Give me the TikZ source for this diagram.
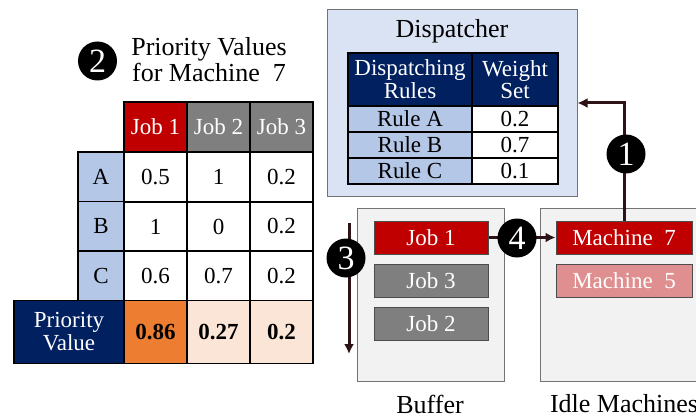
\documentclass[tikz,border=0pt]{standalone}
\usepackage{fontspec}
\setmainfont{Liberation Serif}
\usetikzlibrary{arrows.meta}
\definecolor{jobred}{HTML}{C00000}
\definecolor{jobgray}{HTML}{7F7F7F}
\definecolor{rulebl}{HTML}{B4C7E7}
\definecolor{navy}{HTML}{002060}
\definecolor{hiorange}{HTML}{ED7D31}
\definecolor{lopeach}{HTML}{FBE5D6}
\definecolor{dispbg}{HTML}{DAE3F3}
\definecolor{boxbg}{HTML}{F2F2F2}
\definecolor{mpink}{HTML}{DF8F8F}
\definecolor{flow}{HTML}{2E1316}
\tikzset{
  cell/.style={draw=black, line width=0.7pt, minimum width=31.5pt,
    minimum height=25pt, inner sep=0pt},
  rulecell/.style={draw=black, line width=0.7pt, inner sep=0pt,
    minimum height=13pt},
  area/.style={draw=black!55, line width=0.5pt, fill=boxbg, inner sep=0pt},
  item/.style={draw=black!70, line width=0.5pt, text=white, inner sep=0pt,
    minimum height=16.5pt},
  badge/.style={circle, fill=black, text=white, inner sep=0pt,
    minimum size=19.5pt, font=\fontsize{17}{17}\selectfont},
  flowline/.style={draw=flow, line width=1.5pt, -{Latex[length=5pt,width=5pt]}}
}
\begin{document}
\begin{tikzpicture}[x=0.5pt, y=-0.5pt, font=\fontsize{11.5}{11}\selectfont]
  \useasboundingbox (0,0) rectangle (696,417);
  % priority table
  \node[badge] (n2) at (97.5,61) {2};
  \node[align=center, font=\fontsize{13}{13}\selectfont] (title) at (209,60)
    {Priority Values\\for Machine~~7};
  \node[cell, fill=jobred, text=white] (h1) at (155.5,127) {Job 1};
  \node[cell, fill=jobgray, text=white] (h2) at (218.5,127) {Job 2};
  \node[cell, fill=jobgray, text=white] (h3) at (281.5,127) {Job 3};
  \foreach \r/\y/\a/\b/\c in {A/177/0.5/1/0.2, B/226.5/1/0/0.2, C/276/0.6/0.7/0.2} {
    \node[cell, fill=rulebl, minimum width=23pt] (r\r) at (101,\y) {\r};
    \node[cell] (r\r1) at (155.5,\y) {\a};
    \node[cell] (r\r2) at (218.5,\y) {\b};
    \node[cell] (r\r3) at (281.5,\y) {\c};
  }
  \node[cell, fill=navy, text=white, minimum width=55pt, minimum height=31.5pt,
    align=center, font=\fontsize{11.5}{10}\selectfont] (pv) at (69,332) {Priority\\Value};
  \node[cell, fill=hiorange, minimum height=31.5pt, font=\fontsize{11.5}{11}\bfseries] (pv1) at (155.5,332) {0.86};
  \node[cell, fill=lopeach, minimum height=31.5pt, font=\fontsize{11.5}{11}\bfseries] (pv2) at (218.5,332) {0.27};
  \node[cell, fill=lopeach, minimum height=31.5pt, font=\fontsize{11.5}{11}\bfseries] (pv3) at (281.5,332) {0.2};
  % dispatcher
  \node[area, fill=dispbg, minimum width=125pt, minimum height=93pt] (disp) at (452,103) {};
  \node[font=\fontsize{13}{13}\selectfont] (disptitle) at (452,31) {Dispatcher};
  \node[rulecell, fill=navy, text=white, minimum width=62pt, minimum height=26.5pt,
    align=center, font=\fontsize{11.5}{10}\selectfont] (dr) at (410,79.5) {Dispatching\\Rules};
  \node[rulecell, fill=navy, text=white, minimum width=43pt, minimum height=26.5pt,
    align=center, font=\fontsize{11.5}{10}\selectfont] (ws) at (515,79.5) {Weight\\Set};
  \foreach \r/\y/\w in {A/119/0.2, B/145/0.7, C/171/0.1} {
    \node[rulecell, fill=rulebl, minimum width=62pt] (rule\r) at (410,\y) {Rule \r};
    \node[rulecell, fill=white, minimum width=43pt] (w\r) at (515,\y) {\w};
  }
  % buffer and idle machines
  \node[area, minimum width=73.5pt, minimum height=86.5pt] (buf) at (430.5,294.5) {};
  \node[font=\fontsize{13}{13}\selectfont] (buflabel) at (430,404) {Buffer};
  \node[area, minimum width=79pt, minimum height=86.5pt] (idle) at (619,294.5) {};
  \node[font=\fontsize{13}{13}\selectfont] (idlelabel) at (624,404) {Idle Machines};
  \node[item, fill=jobred, minimum width=57pt] (j1) at (431,237.5) {Job 1};
  \node[item, fill=jobgray, minimum width=57pt] (j3) at (431,280.5) {Job 3};
  \node[item, fill=jobgray, minimum width=57pt] (j2) at (431,323.5) {Job 2};
  \node[item, fill=jobred, minimum width=68pt] (m7) at (624,237.5) {Machine~~7};
  \node[item, fill=mpink, minimum width=68pt] (m5) at (624,280.5) {Machine~~5};
  % flow
  \draw[flowline] (m7.north) |- (disp.east);
  \node[badge] (n1) at (626,154) {1};
  \coordinate (qtop) at (349,223);
  \coordinate (qbot) at (349,354);
  \draw[flowline] (qtop) -- (qbot);
  \node[badge] (n3) at (346,258) {3};
  \draw[flowline] (j1.east) -- (m7.west);
  \node[badge] (n4) at (517,238) {4};
\end{tikzpicture}
\end{document}
